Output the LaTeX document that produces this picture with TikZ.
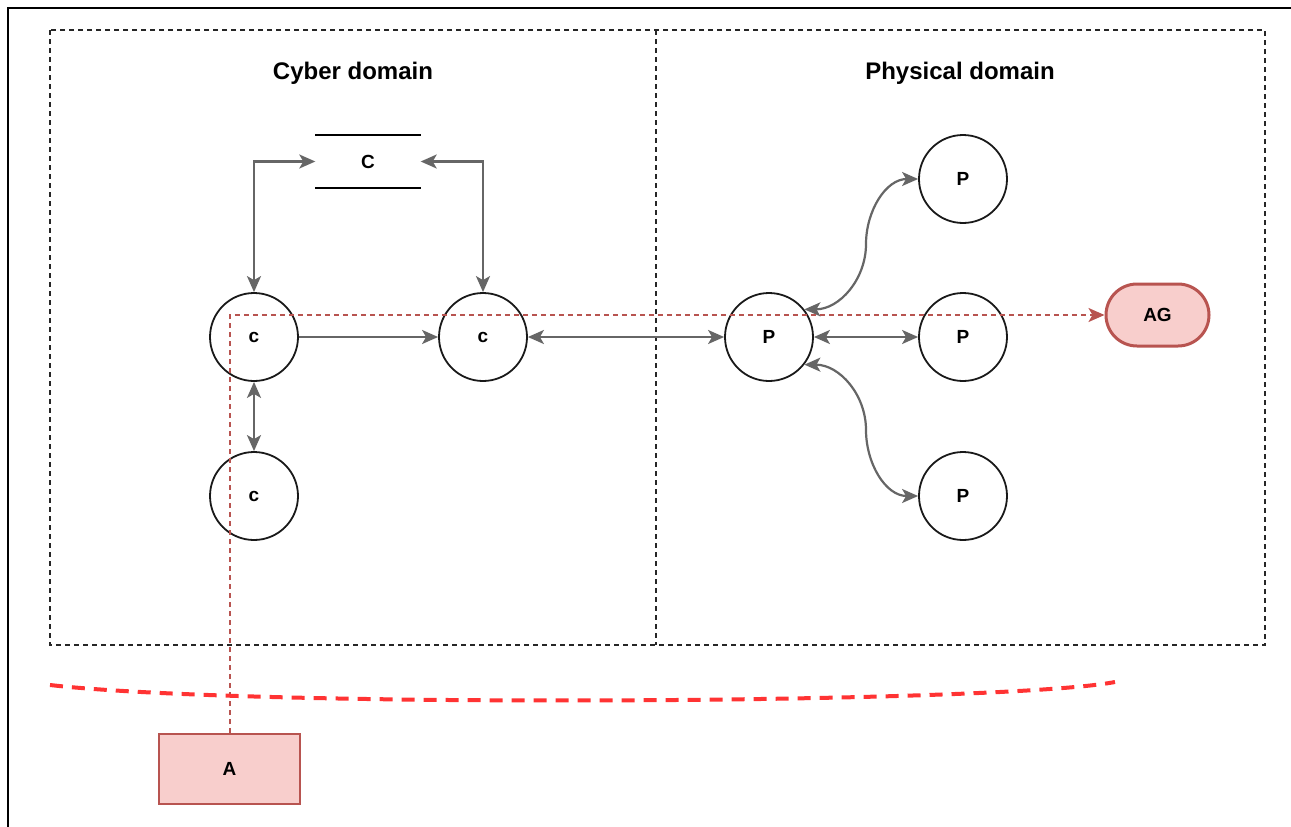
\documentclass[tikz,border=0pt]{standalone}
\usepackage{fontspec}
\setmainfont{Liberation Sans}
\usetikzlibrary{arrows.meta,shapes.misc}

\definecolor{edgegrey}{HTML}{666666}
\definecolor{attackfill}{HTML}{F8CECC}
\definecolor{attackline}{HTML}{B85450}
\definecolor{boundaryred}{HTML}{FF3333}

\tikzset{
  domainbox/.style={draw=black!85, line width=1.4pt, dash pattern=on 5pt off 4pt},
  domaintitle/.style={font=\fontsize{24}{28}\selectfont\bfseries},
  unit/.style={circle, draw=black!90, line width=1.8pt, minimum size=88pt, inner sep=0pt,
               font=\fontsize{19}{22}\selectfont\bfseries},
  store/.style={minimum width=105pt, minimum height=53pt, inner sep=0pt,
                font=\fontsize{19}{22}\selectfont\bfseries},
  link/.style={draw=edgegrey, line width=2.2pt},
  tip/.tip={Stealth[length=16pt,width=14pt,inset=4pt]},
  bilink/.style={link, {tip}-{tip}},
  unilink/.style={link, -{tip}},
  attacker/.style={rectangle, draw=attackline, fill=attackfill, line width=1.8pt,
                   minimum width=141pt, minimum height=70pt, inner sep=0pt,
                   font=\fontsize{19}{22}\selectfont\bfseries},
  goal/.style={rounded rectangle, draw=attackline, fill=attackfill, line width=3pt,
               minimum width=103pt, minimum height=62pt, inner sep=0pt,
               font=\fontsize{19}{22}\selectfont\bfseries},
  attackpath/.style={draw=attackline, line width=1.8pt, dash pattern=on 5pt off 4pt,
                     -{Stealth[length=16pt,width=14pt,inset=4pt]}},
  boundary/.style={draw=boundaryred, line width=4pt, dash pattern=on 13pt off 9pt}
}

\begin{document}
\begin{tikzpicture}[x=1pt, y=-1pt]
\useasboundingbox (0,0) rectangle (1291,827);

% outer frame
\draw[line width=2pt] (8,827) -- (8,8) -- (1291,8);

% the two domains
\draw[domainbox] (50,30) rectangle (1265,645);
\draw[domainbox] (656,30) -- (656,645);
\node[domaintitle] (cybertitle) at (353,73) {Cyber domain};
\node[domaintitle] (phystitle) at (960,73) {Physical domain};

% cyber components
\node[store] (cstore) at (368,161.5) {C};
\draw[line width=1.8pt] (cstore.north west) -- (cstore.north east);
\draw[line width=1.8pt] (cstore.south west) -- (cstore.south east);
\node[unit] (c1) at (254,337) {c};
\node[unit] (c2) at (483,337) {c};
\node[unit] (c3) at (254,496) {c};

% physical components
\node[unit] (p1) at (769,337) {P};
\node[unit] (ptop) at (963,179) {P};
\node[unit] (pmid) at (963,337) {P};
\node[unit] (pbot) at (963,496) {P};

% attacker and attack goal
\node[attacker] (att) at (229.5,769) {A};
\node[goal] (ag) at (1157.5,315) {AG};

% bends of the curved physical links
\coordinate (bendup) at (866,244);
\coordinate (benddown) at (866,430);

% links
\draw[bilink] (c1.north) |- (cstore.west);
\draw[bilink] (c2.north) |- (cstore.east);
\draw[unilink] (c1) -- (c2);
\draw[bilink] (c1) -- (c3);
\draw[bilink] (c2) -- (p1);
\draw[bilink] (p1) -- (pmid);
\draw[bilink] (p1.38) to[out=0,in=-90] (bendup) to[out=90,in=180] (ptop.west);
\draw[bilink] (p1.-38) to[out=0,in=90] (benddown) to[out=-90,in=180] (pbot.west);

% attack path
\draw[attackpath] ([xshift=0.5pt]att.north) |- (ag.west);

% system boundary
\coordinate (bleft) at (50,685);
\coordinate (bright) at (1115,682);
\draw[boundary] (bleft) .. controls (250,708) and (1000,704) .. (bright);
\end{tikzpicture}
\end{document}
